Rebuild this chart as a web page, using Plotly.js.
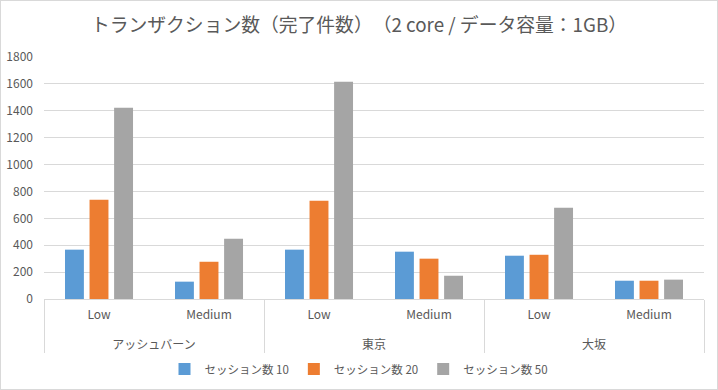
<!DOCTYPE html>
<html>
<head>
<meta charset="utf-8">
<script src="https://cdn.plot.ly/plotly-3.0.1.min.js"></script>
<style>
html,body{margin:0;padding:0;background:#fff;}
#chart{width:716px;height:388px;border:1px solid #d9d9d9;}
</style>
</head>
<body>
<div id="chart"></div>
<script>
// Data
const sites = ["アッシュバーン", "アッシュバーン", "東京", "東京", "大坂", "大坂"];
const loads = ["Low", "Medium", "Low", "Medium", "Low", "Medium"];
const seriesNames = ["セッション数 10", "セッション数 20", "セッション数 50"];
const session10 = [367, 129, 367, 352, 322, 136];
const session20 = [738, 277, 731, 300, 329, 136];
const session50 = [1422, 448, 1615, 173, 679, 144];
const yTicks = [0, 200, 400, 600, 800, 1000, 1200, 1400, 1600, 1800];

const colors = ["#5B9BD5", "#ED7D31", "#A5A5A5"];
const allSeries = [session10, session20, session50];
const font = "'Noto Sans CJK JP', 'Noto Sans', sans-serif";

// inner labels get an empty second line so the outer level sits lower, as in the reference
const innerLabels = loads.map(s => s + "<br>&nbsp;");

const traces = allSeries.map((vals, i) => ({
  type: "bar",
  name: seriesNames[i],
  x: [sites, innerLabels],
  y: vals,
  marker: {color: colors[i]},
  hoverinfo: "y"
}));

const layout = {
  width: 716,
  height: 388,
  margin: {l: 43, r: 13, t: 56, b: 90},
  paper_bgcolor: "#ffffff",
  plot_bgcolor: "#ffffff",
  font: {family: font, color: "#595959", size: 11},
  title: {
    text: "トランザクション数（完了件数）　（2 core / データ容量：1GB）",
    font: {family: font, size: 18.8, color: "#595959"},
    x: 0.5, xanchor: "center", y: 0.937, yanchor: "middle"
  },
  barmode: "group",
  bargap: 0.33,
  bargroupgap: 0.23,
  xaxis: {
    type: "multicategory",
    automargin: false,
    showline: true,
    linecolor: "#d9d9d9",
    linewidth: 1,
    showdividers: true,
    dividercolor: "#d9d9d9",
    dividerwidth: 1,
    ticks: "",
    ticklabelstandoff: 5,
    tickfont: {family: font, size: 12, color: "#595959"},
    showgrid: false
  },
  yaxis: {
    automargin: false,
    range: [0, 1800],
    tickvals: yTicks,
    ticktext: yTicks.map(String),
    showgrid: true,
    gridcolor: "#d9d9d9",
    gridwidth: 1,
    zeroline: false,
    showline: false,
    ticks: "",
    ticklabelstandoff: 10,
    tickfont: {family: font, size: 12, color: "#595959"}
  },
  legend: {
    orientation: "h",
    x: 0.5, xanchor: "center", xref: "container",
    y: 0.0515, yanchor: "middle", yref: "container",
    font: {family: font, size: 11.5, color: "#595959"},
    traceorder: "normal"
  },
  showlegend: true
};

Plotly.newPlot("chart", traces, layout, {displayModeBar: false, staticPlot: true});
</script>
</body>
</html>
